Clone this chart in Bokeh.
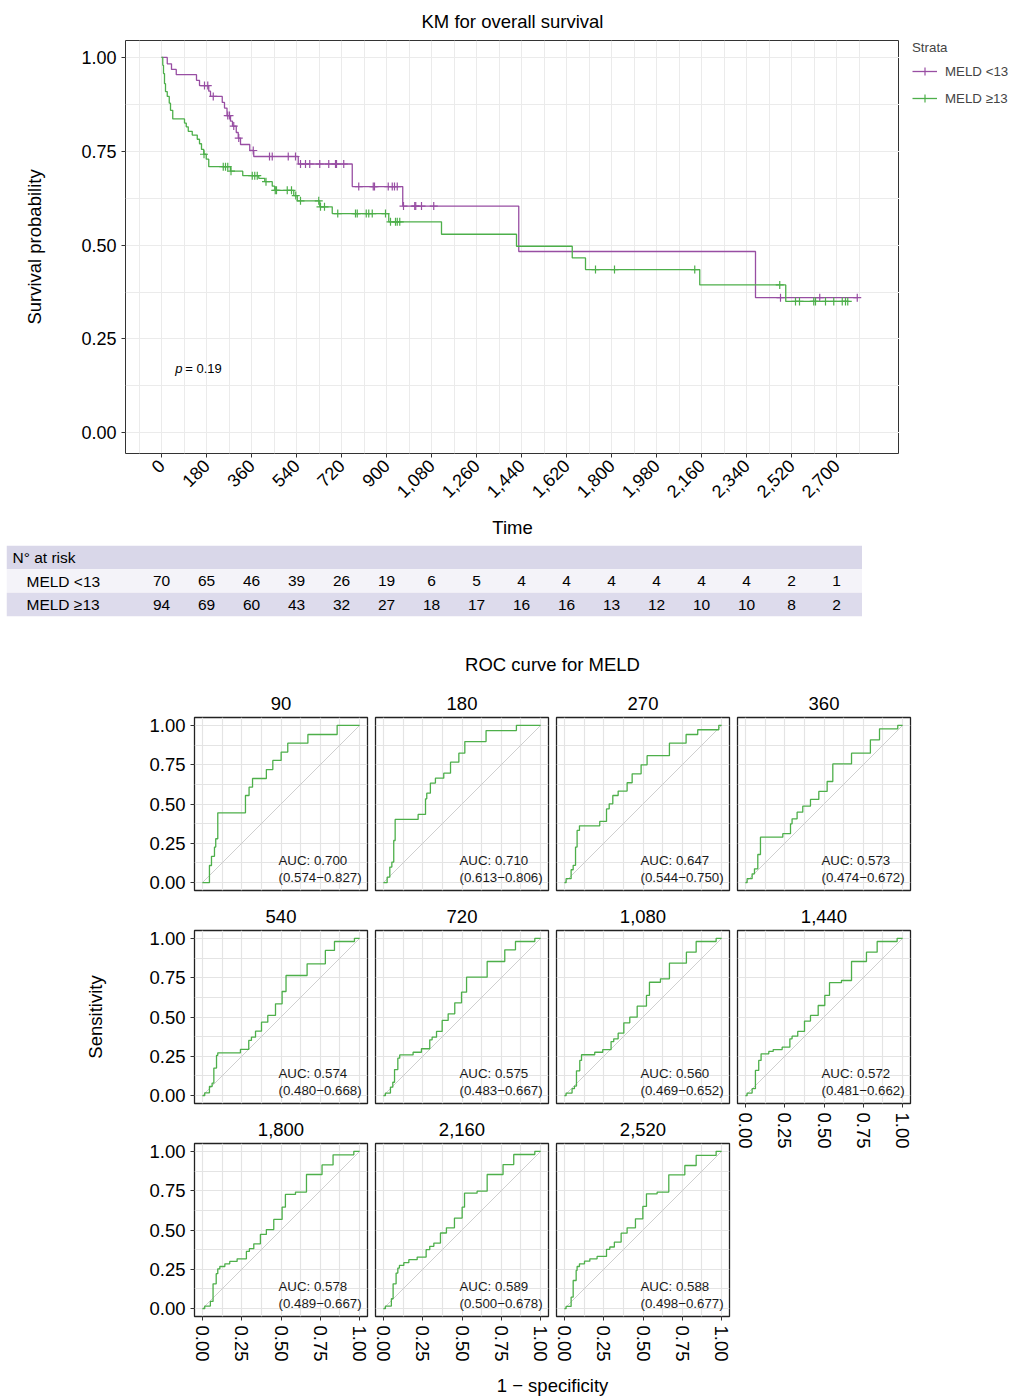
import numpy as np
from bokeh.plotting import figure
from bokeh.models import (Range1d, FixedTicker, NumeralTickFormatter, PrintfTickFormatter,
                          Legend, LegendItem, Grid, LinearAxis)
from bokeh.layouts import column, row
from bokeh.embed import file_html
from bokeh.resources import INLINE
from bokeh.core.properties import value

FONT = "Liberation Sans"
PURPLE = "#984EA3"
GREEN = "#4DAF4A"
GRID = "#EBEBEB"

# ---------------- Kaplan-Meier data ----------------
strata = ["MELD <13", "MELD \u226513"]
km_lt13_time = [0, 23, 40, 59, 140, 152, 189, 196, 243, 252, 262, 276, 284, 299, 307, 316,
                353, 369, 547, 763, 965, 1429, 2376]
km_lt13_surv = [1.0, 0.983, 0.968, 0.954, 0.939, 0.925, 0.910, 0.896, 0.880, 0.865, 0.845,
                0.830, 0.817, 0.800, 0.785, 0.768, 0.752, 0.736, 0.716, 0.656, 0.604, 0.483, 0.360]
km_lt13_end = 2783
km_lt13_censor = [172, 185, 207, 265, 272, 289, 309, 367, 432, 443, 507, 536, 556, 576, 593,
                  633, 669, 696, 700, 729, 789, 847, 852, 907, 923, 932, 943, 968, 1013, 1017,
                  1040, 1089, 2476, 2633, 2783]

km_ge13_time = [0, 5, 8, 12, 16, 23, 31, 36, 45, 92, 99, 107, 123, 143, 152, 160, 169, 179,
                189, 276, 325, 389, 413, 443, 453, 529, 543, 633, 683, 909, 1120, 1420, 1643,
                1696, 2153, 2497]
km_ge13_surv = [1.0, 0.979, 0.957, 0.930, 0.909, 0.896, 0.878, 0.859, 0.836, 0.825, 0.815,
                0.803, 0.793, 0.782, 0.770, 0.755, 0.742, 0.729, 0.709, 0.697, 0.685, 0.678,
                0.669, 0.657, 0.646, 0.632, 0.618, 0.602, 0.584, 0.562, 0.529, 0.497, 0.466,
                0.435, 0.394, 0.350]
km_ge13_end = 2747
km_ge13_censor = [170, 247, 256, 265, 278, 363, 373, 383, 418, 455, 460, 503, 520, 537, 556,
                  629, 636, 652, 705, 776, 783, 819, 829, 843, 896, 916, 936, 943, 953, 1736,
                  1812, 2133, 2473, 2536, 2552, 2609, 2616, 2656, 2689, 2723, 2736, 2745]
p_value = "0.19"

time_ticks = list(range(0, 2701, 180))
time_minor = list(range(-90, 2952, 180))
prob_ticks = [0, 0.25, 0.5, 0.75, 1.0]
prob_minor = [0.125, 0.375, 0.625, 0.875]

# ---------------- Number at risk ----------------
risk_times = list(range(0, 2701, 180))
risk_lt13 = [70, 65, 46, 39, 26, 19, 6, 5, 4, 4, 4, 4, 4, 4, 2, 1]
risk_ge13 = [94, 69, 60, 43, 32, 27, 18, 17, 16, 16, 13, 12, 10, 10, 8, 2]

# ---------------- ROC data ----------------
horizon_labels = ["90", "180", "270", "360", "540", "720", "1,080", "1,440", "1,800", "2,160", "2,520"]
fpr_90 = [0, 0.045, 0.058, 0.077, 0.085, 0.098, 0.274, 0.297, 0.319, 0.407, 0.448, 0.501, 0.543, 0.671, 0.857, 1.0]
tpr_90 = [0, 0.109, 0.167, 0.226, 0.279, 0.444, 0.554, 0.607, 0.662, 0.719, 0.777, 0.830, 0.887, 0.942, 1.0, 1.0]
fpr_180 = [0, 0.024, 0.041, 0.054, 0.066, 0.075, 0.221, 0.268, 0.276, 0.299, 0.331, 0.384, 0.427, 0.480, 0.518, 0.653, 0.846, 1.0]
tpr_180 = [0, 0.035, 0.099, 0.131, 0.268, 0.402, 0.434, 0.533, 0.569, 0.633, 0.664, 0.696, 0.766, 0.823, 0.897, 0.967, 1.0, 1.0]
fpr_270 = [0, 0.011, 0.043, 0.056, 0.071, 0.081, 0.096, 0.225, 0.268, 0.285, 0.308, 0.342, 0.399, 0.431, 0.488, 0.526, 0.668, 0.774, 0.848, 0.982, 1.0]
tpr_270 = [0, 0.025, 0.082, 0.110, 0.226, 0.332, 0.361, 0.389, 0.469, 0.501, 0.554, 0.582, 0.635, 0.692, 0.749, 0.807, 0.887, 0.942, 0.972, 1.0, 1.0]
fpr_360 = [0, 0.011, 0.043, 0.058, 0.079, 0.096, 0.238, 0.287, 0.297, 0.329, 0.365, 0.414, 0.467, 0.520, 0.556, 0.675, 0.795, 0.853, 0.969, 1.0]
tpr_360 = [0, 0.025, 0.056, 0.088, 0.179, 0.289, 0.311, 0.374, 0.406, 0.448, 0.486, 0.529, 0.580, 0.643, 0.755, 0.823, 0.908, 0.978, 1.0, 1.0]
fpr_540 = [0, 0.015, 0.045, 0.062, 0.073, 0.090, 0.098, 0.242, 0.295, 0.312, 0.338, 0.376, 0.416, 0.465, 0.507, 0.532, 0.666, 0.782, 0.840, 0.967, 1.0]
tpr_540 = [0, 0.018, 0.058, 0.080, 0.175, 0.256, 0.272, 0.294, 0.351, 0.372, 0.410, 0.467, 0.510, 0.584, 0.662, 0.764, 0.838, 0.923, 0.980, 1.0, 1.0]
fpr_720 = [0, 0.013, 0.045, 0.060, 0.071, 0.092, 0.104, 0.189, 0.242, 0.295, 0.310, 0.338, 0.374, 0.412, 0.454, 0.497, 0.529, 0.660, 0.772, 0.840, 0.963, 1.0]
tpr_720 = [0, 0.016, 0.054, 0.085, 0.166, 0.238, 0.259, 0.276, 0.298, 0.355, 0.372, 0.408, 0.478, 0.520, 0.590, 0.658, 0.753, 0.853, 0.927, 0.980, 1.0, 1.0]
fpr_1080 = [0, 0.011, 0.049, 0.064, 0.077, 0.098, 0.109, 0.193, 0.244, 0.297, 0.314, 0.342, 0.378, 0.416, 0.463, 0.522, 0.541, 0.611, 0.668, 0.776, 0.838, 0.965, 1.0]
tpr_1080 = [0, 0.016, 0.044, 0.061, 0.158, 0.224, 0.260, 0.276, 0.293, 0.344, 0.361, 0.397, 0.463, 0.499, 0.569, 0.637, 0.721, 0.743, 0.842, 0.912, 0.980, 1.0, 1.0]
fpr_1440 = [0, 0.011, 0.043, 0.064, 0.085, 0.100, 0.149, 0.177, 0.234, 0.283, 0.297, 0.333, 0.376, 0.414, 0.463, 0.505, 0.535, 0.611, 0.675, 0.770, 0.838, 0.965, 1.0]
tpr_1440 = [0, 0.016, 0.044, 0.160, 0.224, 0.266, 0.281, 0.293, 0.308, 0.361, 0.378, 0.408, 0.474, 0.510, 0.573, 0.637, 0.718, 0.732, 0.853, 0.912, 0.980, 1.0, 1.0]
fpr_1800 = [0, 0.015, 0.051, 0.068, 0.088, 0.098, 0.111, 0.143, 0.174, 0.221, 0.280, 0.299, 0.327, 0.369, 0.407, 0.454, 0.507, 0.528, 0.592, 0.662, 0.761, 0.831, 0.963, 1.0]
tpr_1800 = [0, 0.016, 0.046, 0.158, 0.222, 0.253, 0.268, 0.285, 0.300, 0.317, 0.364, 0.381, 0.412, 0.472, 0.503, 0.567, 0.645, 0.726, 0.741, 0.853, 0.914, 0.978, 1.0, 1.0]
fpr_2160 = [0, 0.013, 0.051, 0.062, 0.081, 0.092, 0.102, 0.130, 0.162, 0.215, 0.272, 0.295, 0.321, 0.363, 0.401, 0.452, 0.501, 0.516, 0.596, 0.660, 0.761, 0.829, 0.963, 1.0]
tpr_2160 = [0, 0.016, 0.063, 0.158, 0.226, 0.258, 0.275, 0.292, 0.311, 0.328, 0.375, 0.396, 0.417, 0.481, 0.514, 0.576, 0.645, 0.734, 0.747, 0.853, 0.916, 0.980, 1.0, 1.0]
fpr_2520 = [0, 0.011, 0.043, 0.056, 0.075, 0.081, 0.096, 0.128, 0.162, 0.208, 0.268, 0.289, 0.318, 0.361, 0.399, 0.452, 0.499, 0.522, 0.590, 0.664, 0.766, 0.838, 0.965, 1.0]
tpr_2520 = [0, 0.014, 0.073, 0.179, 0.243, 0.268, 0.285, 0.302, 0.317, 0.332, 0.377, 0.392, 0.423, 0.480, 0.514, 0.571, 0.650, 0.730, 0.741, 0.851, 0.910, 0.974, 1.0, 1.0]
auc_values = ["0.700", "0.710", "0.647", "0.573", "0.574", "0.575", "0.560", "0.572", "0.578", "0.589", "0.588"]
auc_lower = ["0.574", "0.613", "0.544", "0.474", "0.480", "0.483", "0.469", "0.481", "0.489", "0.500", "0.498"]
auc_upper = ["0.827", "0.806", "0.750", "0.672", "0.668", "0.667", "0.652", "0.662", "0.667", "0.678", "0.677"]
diag = [0, 1]

roc_fpr = [fpr_90, fpr_180, fpr_270, fpr_360, fpr_540, fpr_720, fpr_1080, fpr_1440, fpr_1800, fpr_2160, fpr_2520]
roc_tpr = [tpr_90, tpr_180, tpr_270, tpr_360, tpr_540, tpr_720, tpr_1080, tpr_1440, tpr_1800, tpr_2160, tpr_2520]


# ---------------- helpers ----------------
def replace_grids(p, xt, xm, yt, ym, color=GRID, width=1):
    p.center = [r for r in p.center if not isinstance(r, Grid)]
    for dim, t, m in ((0, xt, xm), (1, yt, ym)):
        g = Grid(dimension=dim, ticker=FixedTicker(ticks=t, minor_ticks=m),
                 grid_line_color=color, grid_line_width=width,
                 minor_grid_line_color=color, minor_grid_line_width=width)
        p.add_layout(g, "center")


def style_axis(ax, tick_size, label_size="18.5px"):
    ax.major_label_text_font = FONT
    ax.major_label_text_font_size = tick_size
    ax.major_label_text_color = "black"
    ax.axis_label_text_font = FONT
    ax.axis_label_text_font_style = "normal"
    ax.axis_label_text_font_size = label_size
    ax.axis_label_text_color = "black"
    ax.major_tick_in = 0
    ax.major_tick_out = 4
    ax.major_tick_line_color = "#333333"
    ax.minor_tick_line_color = None
    ax.axis_line_color = None


def surv_at(times, surv, t):
    idx = np.searchsorted(np.array(times), np.array(t), side="right") - 1
    return list(np.array(surv)[idx])


def blank(p):
    p.outline_line_color = None
    p.center = [r for r in p.center if not isinstance(r, Grid)]


# ---------------- KM figure ----------------
km = figure(width=899, height=540, x_range=Range1d(-144, 2952), y_range=Range1d(-0.055, 1.045),
            min_border_left=125, min_border_right=0, min_border_top=40, min_border_bottom=82,
            output_backend="svg", toolbar_location=None, title="KM for overall survival")
km.title.align = "center"
km.title.text_font = FONT
km.title.text_font_size = "18.5px"
km.title.text_font_style = "normal"
km.title.text_color = "black"
km.title.standoff = 17
km.outline_line_color = "#333333"
km.outline_line_width = 1
replace_grids(km, time_ticks, time_minor, prob_ticks, prob_minor)
km.xaxis.ticker = FixedTicker(ticks=time_ticks)
km.xaxis.formatter = NumeralTickFormatter(format="0,0")
km.xaxis.major_label_orientation = np.pi / 4
km.xaxis.axis_label = "Time"
km.yaxis.ticker = FixedTicker(ticks=prob_ticks)
km.yaxis.formatter = PrintfTickFormatter(format="%.2f")
km.yaxis.axis_label = "Survival probability"
for ax in km.axis:
    style_axis(ax, "18px")
km.yaxis.axis_label_standoff = 33
km.xaxis.axis_label_standoff = 10

km.step(km_lt13_time + [km_lt13_end], km_lt13_surv + [km_lt13_surv[-1]], mode="after",
        line_color=PURPLE, line_width=1.3)
km.scatter(km_lt13_censor, surv_at(km_lt13_time, km_lt13_surv, km_lt13_censor),
           marker="cross", size=8, line_color=PURPLE, line_width=1.2)
km.step(km_ge13_time + [km_ge13_end], km_ge13_surv + [km_ge13_surv[-1]], mode="after",
        line_color=GREEN, line_width=1.3)
km.scatter(km_ge13_censor, surv_at(km_ge13_time, km_ge13_surv, km_ge13_censor),
           marker="cross", size=8, line_color=GREEN, line_width=1.2)

km.text(x=[55], y=[0.171], text=["p"], text_font=value(FONT), text_font_size="13px",
        text_font_style="italic", text_baseline="middle", text_align="left", text_color="black")
km.text(x=[55], y=[0.171], text=["= " + p_value], x_offset=10, text_font=value(FONT),
        text_font_size="13px", text_baseline="middle", text_align="left", text_color="black")

# ---------------- legend panel (beside KM) ----------------
# the key renderers hold off-range points, so only their legend glyphs show
key_x = [-5, -4]
key_y = [-5, -4]
lg = figure(width=110, height=540, x_range=Range1d(0, 1), y_range=Range1d(0, 1),
            min_border_left=13, min_border_right=0, min_border_top=36, min_border_bottom=82,
            x_axis_location=None, y_axis_location=None,
            output_backend="svg", toolbar_location=None)
blank(lg)
gl1 = lg.line(key_x, key_y, line_color=PURPLE, line_width=1.3)
gc1 = lg.scatter(key_x, key_y, marker="cross", size=8, line_color=PURPLE, line_width=1.2)
gl2 = lg.line(key_x, key_y, line_color=GREEN, line_width=1.3)
gc2 = lg.scatter(key_x, key_y, marker="cross", size=8, line_color=GREEN, line_width=1.2)
legend = Legend(items=[LegendItem(label=strata[0], renderers=[gl1, gc1]),
                       LegendItem(label=strata[1], renderers=[gl2, gc2])],
                location="top_left", title="Strata")
legend.title_text_font = FONT
legend.title_text_font_size = "13.3px"
legend.title_text_font_style = "normal"
legend.title_standoff = 6
legend.label_text_font = FONT
legend.label_text_font_size = "13.3px"
legend.glyph_width = 25
legend.glyph_height = 20
legend.label_height = 20
legend.label_standoff = 8
legend.spacing = 7
legend.padding = 0
legend.margin = 0
legend.border_line_color = None
legend.background_fill_alpha = 0
lg.add_layout(legend, "center")

# ---------------- risk table ----------------
tb = figure(width=862, height=80, x_range=Range1d(-620, 2804), y_range=Range1d(0, 3),
            min_border_left=6, min_border_right=0, min_border_top=5, min_border_bottom=4,
            x_axis_location=None, y_axis_location=None,
            output_backend="svg", toolbar_location=None)
blank(tb)
tb.quad(left=-620, right=2804, bottom=[2, 1, 0], top=[3, 2, 1],
        fill_color=["#D9D7E9", "#F4F3F9", "#DDDBEC"], line_color=None)
tb.text(x=[-596], y=[2.5], text=["N\u00b0 at risk"], text_font=value(FONT), text_font_size="15.5px",
        text_baseline="middle", text_align="left", text_color="black")
tb.text(x=[-540, -540], y=[1.5, 0.5], text=strata, text_font=value(FONT), text_font_size="15.5px",
        text_baseline="middle", text_align="left", text_color="black")
tb.text(x=risk_times, y=[1.5] * len(risk_times), text=[str(v) for v in risk_lt13],
        text_font=value(FONT), text_font_size="15.5px", text_baseline="middle",
        text_align="center", text_color="black")
tb.text(x=risk_times, y=[0.5] * len(risk_times), text=[str(v) for v in risk_ge13],
        text_font=value(FONT), text_font_size="15.5px", text_baseline="middle",
        text_align="center", text_color="black")


# ---------------- text-only figures ----------------
def text_fig(w, h, txt, x, y):
    f = figure(width=w, height=h, x_range=Range1d(0, w), y_range=Range1d(0, h),
               min_border_left=0, min_border_right=0, min_border_top=0, min_border_bottom=0,
               x_axis_location=None, y_axis_location=None,
               output_backend="svg", toolbar_location=None)
    blank(f)
    f.text(x=[x], y=[y], text=[txt], text_font=value(FONT), text_font_size="18.5px",
           text_align="center", text_baseline="middle", text_color="black")
    return f


roc_title = text_fig(918, 61, "ROC curve for MELD", 552, 17)
roc_xlabel = text_fig(918, 30, "1 \u2212 specificity", 552, 11)


# ---------------- ROC panels ----------------
def roc_fig(i, left_axis, bottom_axis, right_border, ylabel=None):
    bottom = 50 if bottom_axis else 4
    h = 36 + 173 + bottom
    wl = 194 if left_axis else 4
    p = figure(width=wl + 173 + right_border, height=h,
               x_range=Range1d(-0.05, 1.05), y_range=Range1d(-0.05, 1.05),
               min_border_left=wl, min_border_right=right_border,
               min_border_top=36, min_border_bottom=bottom,
               x_axis_location="below" if bottom_axis else None,
               y_axis_location="left" if left_axis else None,
               output_backend="svg", toolbar_location=None)
    p.outline_line_color = "#222222"
    p.outline_line_width = 1.3
    replace_grids(p, prob_ticks, prob_minor, prob_ticks, prob_minor, color="#E4E4E4", width=1.2)
    for ax in p.axis:
        style_axis(ax, "18.5px")
        ax.ticker = FixedTicker(ticks=prob_ticks)
        ax.formatter = PrintfTickFormatter(format="%.2f")
    if bottom_axis:
        p.xaxis.major_label_orientation = "vertical"
    if left_axis and ylabel:
        p.yaxis.axis_label = ylabel
        p.yaxis.axis_label_standoff = 40
    # strip label as a top axis with one centred tick
    strip = LinearAxis(ticker=FixedTicker(ticks=[0.5]), major_label_overrides={0.5: horizon_labels[i]},
                       axis_line_color=None, major_tick_line_color=None, minor_tick_line_color=None,
                       major_tick_out=0, major_tick_in=0, major_label_standoff=8,
                       major_label_text_font=FONT, major_label_text_font_size="18.5px",
                       major_label_text_color="black")
    p.add_layout(strip, "above")
    p.line(diag, diag, line_color="#CFCFCF", line_width=1)
    p.step(roc_fpr[i], roc_tpr[i], mode="after", line_color=GREEN, line_width=1.3)
    p.text(x=[0.484, 0.484], y=[0.141, 0.034],
           text=["AUC: " + auc_values[i], "(" + auc_lower[i] + "\u2212" + auc_upper[i] + ")"],
           text_font=value(FONT), text_font_size="13.3px", text_baseline="middle",
           text_align="left", text_color="#1A1A1A")
    return p


f = {}
f[0] = roc_fig(0, True, False, 4)
f[4] = roc_fig(4, True, False, 4, ylabel="Sensitivity")
f[8] = roc_fig(8, True, True, 4)
f[1] = roc_fig(1, False, False, 4)
f[5] = roc_fig(5, False, False, 4)
f[9] = roc_fig(9, False, True, 4)
f[2] = roc_fig(2, False, False, 4)
f[6] = roc_fig(6, False, False, 4)
f[10] = roc_fig(10, False, True, 4)
f[3] = roc_fig(3, False, False, 12)
f[7] = roc_fig(7, False, True, 12)

grid_block = row(column(f[0], f[4], f[8]), column(f[1], f[5], f[9]),
                 column(f[2], f[6], f[10]), column(f[3], f[7]))

open("out.html", "w").write(file_html([row(km, lg), tb, roc_title, grid_block, roc_xlabel], INLINE))
